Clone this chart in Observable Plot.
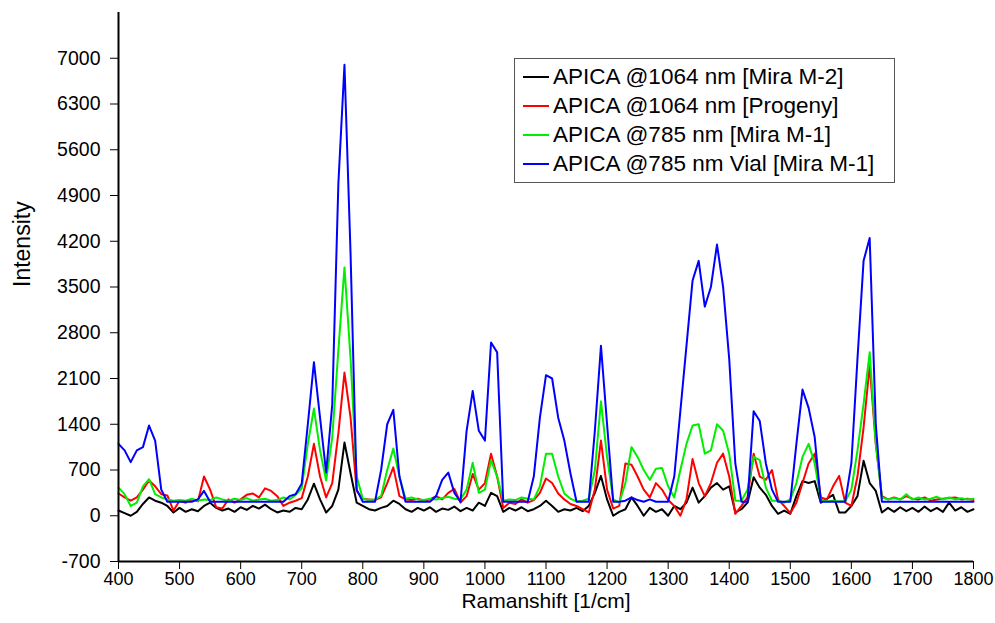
<!DOCTYPE html>
<html>
<head>
<meta charset="utf-8">
<script src="https://cdn.jsdelivr.net/npm/d3@7"></script>
<script src="https://cdn.jsdelivr.net/npm/@observablehq/plot@0.6"></script>
<style>
  html, body { margin: 0; padding: 0; background: #fff; }
  #wrap { position: relative; width: 995px; height: 623px; font-family: Arial, "Liberation Sans", sans-serif; }
  #legend { position: absolute; left: 514px; top: 58px; width: 381px; height: 125px; border: 1.5px solid #555; background: #fff; box-sizing: border-box; padding-top: 3px; }
  .row { display: flex; align-items: center; height: 29px; font-size: 22.5px; color: #000; white-space: nowrap; }
  .sw { width: 26px; height: 0; border-top: 2px solid; margin-left: 8px; margin-right: 4px; }
</style>
</head>
<body>
<div id="wrap"></div>
<script>
// Raman shift grid (1/cm), 10 cm-1 steps
const shift = d3.range(400, 1801, 10);

const seriesNames = [
  "APICA @1064 nm [Mira M-2]",
  "APICA @1064 nm [Progeny]",
  "APICA @785 nm [Mira M-1]",
  "APICA @785 nm Vial [Mira M-1]"
];
const seriesColors = ["#000000", "#ff0000", "#00ee00", "#0000ff"];

const black = [
  80, 40, 0, 60, 180, 280, 230, 200, 150, 50,
  120, 60, 100, 70, 150, 200, 120, 80, 110, 60,
  130, 90, 150, 110, 170, 100, 50, 80, 60, 120,
  100, 250, 490, 250, 50, 150, 400, 1120, 650, 200,
  150, 100, 80, 120, 150, 230, 180, 100, 60, 120,
  80, 130, 60, 110, 90, 140, 70, 120, 80, 200,
  150, 350, 300, 60, 120, 80, 130, 70, 100, 150,
  230, 150, 60, 100, 80, 120, 70, 150, 350, 610,
  250, 0, 60, 100, 280, 150, 0, 120, 60, 100,
  0, 150, 100, 200, 430, 200, 300, 430, 500, 400,
  450, 50, 100, 200, 590, 430, 320, 150, 30, 80,
  30, 300, 530, 500, 530, 200, 260, 320, 50, 50,
  150, 300, 840, 500, 380, 50, 120, 60, 130, 70,
  120, 60, 140, 70, 120, 60, 200, 80, 130, 60, 100
];

const red = [
  340, 280, 230, 280, 400, 540, 450, 330, 310, 80,
  230, 200, 250, 220, 600, 400, 130, 110, 250, 200,
  250, 320, 340, 280, 420, 380, 300, 150, 200, 230,
  270, 600, 1100, 600, 280, 500, 1260, 2190, 1500, 380,
  260, 250, 240, 280, 500, 740, 300, 250, 240, 260,
  230, 250, 300, 250, 350, 410, 200, 300, 640, 400,
  500, 950, 600, 120, 200, 180, 250, 200, 240, 350,
  570, 500, 340, 250, 180, 150, 100, 50, 400, 1150,
  400, 110, 150, 800, 780, 600, 400, 280, 500, 400,
  240, 150, 0, 250, 870, 500, 300, 500, 810, 950,
  600, 30, 150, 280, 950, 600, 550, 700, 250, 150,
  40, 200, 500, 800, 950, 280, 250, 450, 610, 200,
  150, 600, 1350, 2300, 1100, 300, 250, 280, 250, 300,
  260, 250, 280, 230, 250, 260, 270, 280, 250, 260, 240
];

const green = [
  430, 330, 150, 200, 450, 560, 330, 280, 250, 230,
  240, 230, 260, 230, 250, 240, 280, 250, 230, 260,
  240, 270, 230, 250, 260, 230, 240, 280, 250, 320,
  420, 1100, 1640, 1000, 540, 1200, 2530, 3800, 2400, 600,
  260, 240, 250, 300, 700, 1030, 600, 260, 280, 250,
  240, 260, 250, 270, 290, 260, 250, 400, 810, 350,
  400, 850, 600, 230, 250, 240, 280, 260, 250, 450,
  950, 950, 600, 340, 260, 220, 230, 260, 700, 1750,
  900, 250, 200, 500, 1050, 900, 700, 550, 720, 730,
  450, 280, 700, 1100, 1380, 1400, 950, 1000, 1400, 1300,
  950, 230, 230, 400, 900, 850, 430, 230, 230, 200,
  250, 500, 900, 1100, 800, 250, 220, 230, 220, 220,
  400, 1000, 1710, 2500, 1100, 280, 250, 270, 250, 330,
  250, 280, 250, 260, 290, 250, 280, 250, 270, 250, 260
];

const blue = [
  1100, 1000, 820, 1000, 1050, 1380, 1150, 400, 215, 215,
  215, 215, 215, 250, 380, 215, 215, 215, 215, 215,
  215, 215, 215, 215, 215, 215, 215, 215, 300, 330,
  490, 1400, 2350, 1500, 660, 1700, 5080, 6900, 4000, 400,
  215, 215, 215, 700, 1400, 1620, 600, 215, 215, 215,
  215, 215, 300, 550, 660, 350, 215, 1300, 1910, 1300,
  1150, 2650, 2500, 215, 215, 215, 215, 215, 600, 1500,
  2150, 2100, 1500, 1150, 650, 215, 215, 215, 1300, 2600,
  1400, 215, 215, 230, 280, 240, 215, 250, 215, 215,
  215, 600, 1600, 2600, 3600, 3900, 3200, 3500, 4150, 3500,
  2400, 800, 215, 215, 1600, 1450, 800, 400, 215, 215,
  215, 1100, 1930, 1650, 1200, 215, 215, 215, 215, 215,
  800, 2400, 3900, 4250, 1400, 215, 215, 215, 215, 215,
  215, 215, 215, 215, 215, 215, 215, 215, 215, 215, 215
];

const yTicks = d3.range(-700, 7001, 700);
const xTicks = d3.range(400, 1801, 100);

const allSeries = [black, red, green, blue];
const rows = [];
allSeries.forEach((vals, s) => {
  vals.forEach((v, i) => rows.push({x: shift[i], y: v, s: seriesNames[s]}));
});

const chart = Plot.plot({
  width: 995,
  height: 623,
  marginLeft: 118,
  marginRight: 22,
  marginTop: 12,
  marginBottom: 62,
  style: { fontFamily: "Arial, 'Liberation Sans', sans-serif", fontSize: "18px", color: "#000", background: "#fff" },
  x: { domain: [400, 1800], ticks: xTicks, tickFormat: d => String(d), label: null },
  y: { domain: [-700, 7700], ticks: yTicks, tickFormat: d => String(d), label: null },
  color: { domain: seriesNames, range: seriesColors },
  marks: [
    Plot.line(rows, { x: "x", y: "y", z: "s", stroke: "s", strokeWidth: 2, curve: "linear" }),
    Plot.ruleX([400], { stroke: "#000", strokeWidth: 2 }),
    Plot.ruleY([-700], { stroke: "#000", strokeWidth: 2 }),
    Plot.axisX({ ticks: xTicks, tickFormat: d => String(d), tickSize: 8, tickPadding: 3, label: null, fontSize: 18, tickWidth: 1.5 }),
    Plot.axisY({ ticks: yTicks, tickFormat: d => String(d), tickSize: 8, tickPadding: 10, label: null, fontSize: 19.5, tickWidth: 1.5 }),
    Plot.text(["Intensity"], { frameAnchor: "left", dx: -96, rotate: -90, fontSize: 23, fill: "#000" }),
    Plot.text(["Ramanshift [1/cm]"], { frameAnchor: "bottom", dy: 46, fontSize: 21, fill: "#000" })
  ]
});

const wrap = document.getElementById("wrap");
wrap.appendChild(chart);

const legend = document.createElement("div");
legend.id = "legend";
seriesNames.forEach((name, i) => {
  const row = document.createElement("div");
  row.className = "row";
  const sw = document.createElement("span");
  sw.className = "sw";
  sw.style.borderTopColor = seriesColors[i];
  const t = document.createElement("span");
  t.textContent = name;
  row.appendChild(sw);
  row.appendChild(t);
  legend.appendChild(row);
});
wrap.appendChild(legend);
</script>
</body>
</html>
